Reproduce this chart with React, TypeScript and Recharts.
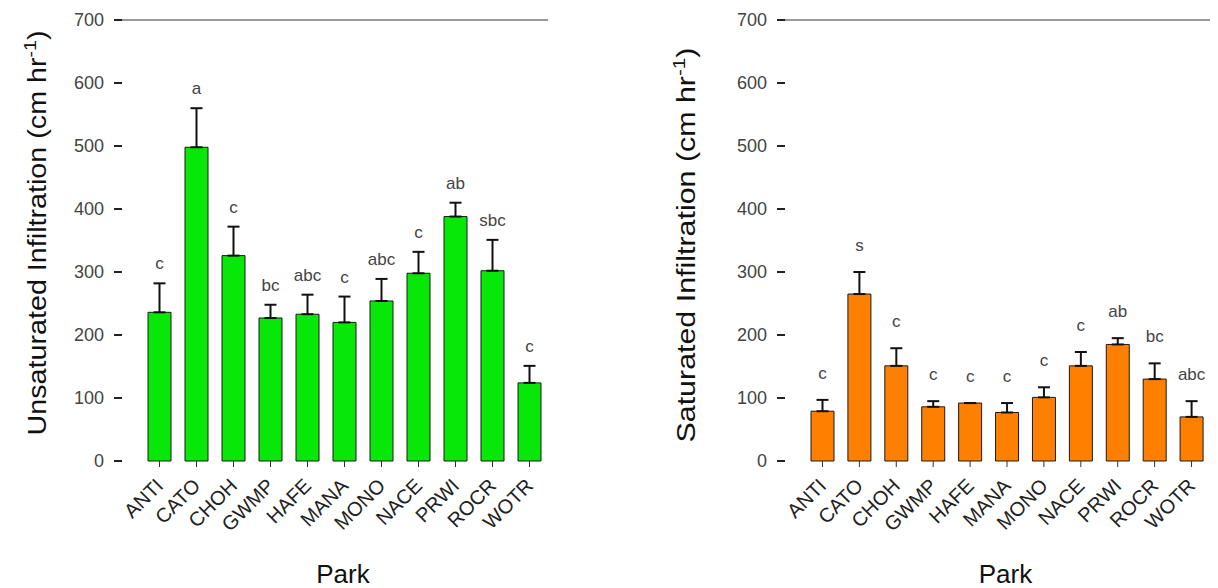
import React from 'react';
import { BarChart, Bar, XAxis, YAxis, ErrorBar, LabelList, ReferenceLine } from 'recharts';

const parks = ['ANTI', 'CATO', 'CHOH', 'GWMP', 'HAFE', 'MANA', 'MONO', 'NACE', 'PRWI', 'ROCR', 'WOTR'];
const unsatMean = [236, 498, 326, 227, 233, 220, 254, 298, 388, 302, 124];
const unsatErr = [46, 62, 46, 21, 31, 41, 35, 34, 22, 49, 27];
const unsatLetters = ['c', 'a', 'c', 'bc', 'abc', 'c', 'abc', 'c', 'ab', 'sbc', 'c'];
const satMean = [79, 265, 151, 86, 92, 77, 101, 151, 185, 130, 70];
const satErr = [18, 35, 28, 9, 0, 15, 16, 22, 10, 25, 25];
const satLetters = ['c', 's', 'c', 'c', 'c', 'c', 'c', 'c', 'ab', 'bc', 'abc'];
const yTicks = [0, 100, 200, 300, 400, 500, 600, 700];

const FONT = '"Liberation Sans", Arial, sans-serif';

const buildRows = (means: number[], errs: number[], letters: string[]) =>
    parks.map((park, i) => ({
        park,
        mean: means[i],
        err: [0, errs[i]],
        up: errs[i],
        letter: letters[i]
    }));

const ParkTick = (props: any) => {
    const { x, y, payload } = props;
    return (
        <text
            x={x + 5}
            y={y + 18}
            transform={`rotate(-45 ${x + 5} ${y + 18})`}
            textAnchor="end"
            fontFamily={FONT}
            fontSize={20}
            fill="#222"
        >
            {payload.value}
        </text>
    );
};

// letter placed above the top of the error bar, using the bar's own pixel scale
const makeLetter = (rows: any[], gap: number) => (props: any) => {
    const { x, y, width, height, index } = props;
    const row = rows[index];
    const perUnit = row.mean ? height / row.mean : 0;
    const top = y - row.up * perUnit;
    return (
        <text x={x + width / 2} y={top - gap} textAnchor="middle" fontFamily={FONT} fontSize={17} fill="#444">
            {row.letter}
        </text>
    );
};

const Panel = ({ rows, color, title, axisWidth, width, rightMargin, labelX, labelY, labelLen, gap }: any) => (
    <BarChart
        width={width}
        height={588}
        data={rows}
        margin={{ top: 20, right: rightMargin, bottom: 0, left: 0 }}
        barSize={23}
    >
        <XAxis
            dataKey="park"
            axisLine={false}
            tickLine={{ stroke: '#333' }}
            tickSize={6}
            height={127}
            interval={0}
            padding={{ left: 19, right: 0 }}
            tick={<ParkTick />}
            label={{
                content: ({ viewBox }: any) => (
                    <text
                        x={viewBox.x + viewBox.width / 2 + 8}
                        y={583}
                        textAnchor="middle"
                        fontFamily={FONT}
                        fontSize={26}
                        fill="#111"
                    >
                        Park
                    </text>
                )
            }}
        />
        <YAxis
            domain={[0, 700]}
            ticks={yTicks}
            width={axisWidth}
            axisLine={false}
            tickLine={{ stroke: '#222', strokeWidth: 2 }}
            tickSize={8}
            tickMargin={10}
            tick={{ fontFamily: FONT, fontSize: 18, fill: '#444' }}
            label={{
                content: () => (
                    <text
                        x={labelX}
                        y={labelY}
                        transform={`rotate(-90 ${labelX} ${labelY})`}
                        textAnchor="middle"
                        fontFamily={FONT}
                        fontSize={25}
                        fill="#111"
                        textLength={labelLen}
                        lengthAdjust="spacingAndGlyphs"
                    >
                        {title} Infiltration (cm hr
                        <tspan dy={-10} fontSize={17}>-1</tspan>
                        <tspan dy={10}>)</tspan>
                    </text>
                )
            }}
        />
        <ReferenceLine y={700} stroke="#9a9a9a" strokeWidth={2} />
        <Bar dataKey="mean" fill={color} stroke="#1a1a1a" strokeWidth={1} isAnimationActive={false}>
            <ErrorBar dataKey="err" width={6} stroke="#111" strokeWidth={2} direction="y" />
            <LabelList dataKey="letter" content={makeLetter(rows, gap)} />
        </Bar>
    </BarChart>
);

const App = () => {
    const unsatRows = buildRows(unsatMean, unsatErr, unsatLetters);
    const satRows = buildRows(satMean, satErr, satLetters);

    return (
        <div style={{ position: 'absolute', left: 0, top: 0, width: 1218, height: 588, background: '#fff' }}>
            <div style={{ position: 'absolute', left: 0, top: 0 }}>
                <Panel
                    rows={unsatRows}
                    color="#08e808"
                    title="Unsaturated"
                    axisWidth={122}
                    width={600}
                    rightMargin={52}
                    labelX={46}
                    labelY={233}
                    labelLen={405}
                    gap={14}
                />
            </div>
            <div style={{ position: 'absolute', left: 610, top: 0 }}>
                <Panel
                    rows={satRows}
                    color="#ff8000"
                    title="Saturated"
                    axisWidth={175}
                    width={608}
                    rightMargin={8}
                    labelX={85}
                    labelY={245}
                    labelLen={395}
                    gap={21}
                />
            </div>
        </div>
    );
};

export default App;
